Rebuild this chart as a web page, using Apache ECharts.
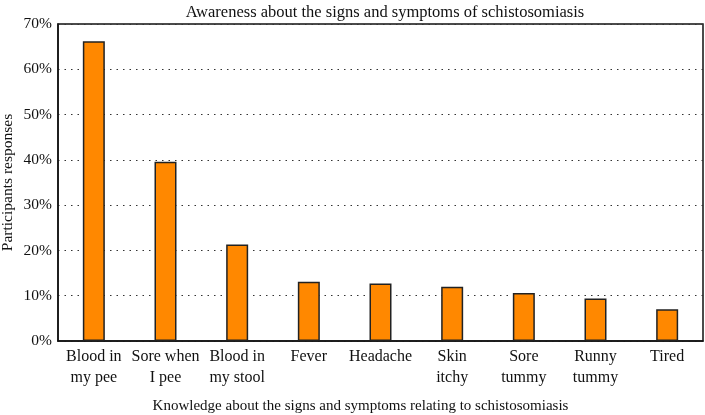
<!DOCTYPE html>
<html>
<head>
<meta charset="utf-8">
<script src="https://cdn.jsdelivr.net/npm/echarts@6/dist/echarts.min.js"></script>
<style>html,body{margin:0;padding:0;background:#fff;}#c{width:705px;height:415px;}</style>
</head>
<body>
<div id="c"></div>
<script>
const categories = ["Blood in\nmy pee", "Sore when\nI pee", "Blood in\nmy stool", "Fever", "Headache", "Skin\nitchy", "Sore\ntummy", "Runny\ntummy", "Tired"];
const values = [66.2, 39.6, 21.3, 13.1, 12.7, 12.0, 10.6, 9.4, 7.0];
const yTicks = [0, 10, 20, 30, 40, 50, 60, 70];
const titleText = "Awareness about the signs and symptoms of schistosomiasis";
const xTitle = "Knowledge about the signs and symptoms relating to schistosomiasis";
const yTitle = "Participants responses";

const font = "'Liberation Serif', 'DejaVu Serif', serif";
const chart = echarts.init(document.getElementById('c'), null, {renderer: 'canvas'});
chart.setOption({
  animation: false,
  backgroundColor: '#fff',
  title: {
    text: titleText, left: 380, top: -1, textAlign: 'center',
    textStyle: {fontFamily: font, fontSize: 16.5, fontWeight: 'normal', color: '#111'}
  },
  grid: {left: 58, right: 2, top: 24, bottom: 74, outerBoundsMode: 'none', containLabel: false,
    show: true, borderColor: '#111', borderWidth: 1.5, backgroundColor: 'transparent'},
  xAxis: {
    type: 'category', data: categories,
    name: xTitle, nameLocation: 'middle', nameGap: 58, nameMoveOverlap: false,
    nameTextStyle: {fontFamily: font, fontSize: 15, color: '#111', padding: [0, 40, 0, 0]},
    axisLine: {lineStyle: {color: '#111', width: 1.5}},
    axisTick: {show: false},
    axisLabel: {fontFamily: font, fontSize: 16, color: '#111', lineHeight: 21, margin: 5, interval: 0}
  },
  yAxis: {
    type: 'value', min: yTicks[0], max: yTicks[yTicks.length - 1], interval: 10,
    name: yTitle, nameLocation: 'middle', nameGap: 42, nameMoveOverlap: false,
    nameTextStyle: {fontFamily: font, fontSize: 15.5, color: '#111'},
    axisLine: {show: true, lineStyle: {color: '#111', width: 1.5}},
    axisTick: {show: false},
    axisLabel: {fontFamily: font, fontSize: 15.5, color: '#111', margin: 6, formatter: v => v + '%'},
    splitLine: {show: true, lineStyle: {color: '#333', width: 1, type: [1.5, 5]}}
  },
  series: [{
    type: 'bar', data: values, barWidth: 22,
    itemStyle: {color: '#FF8800', borderColor: '#222', borderWidth: 1.5}
  }]
});
</script>
</body>
</html>
